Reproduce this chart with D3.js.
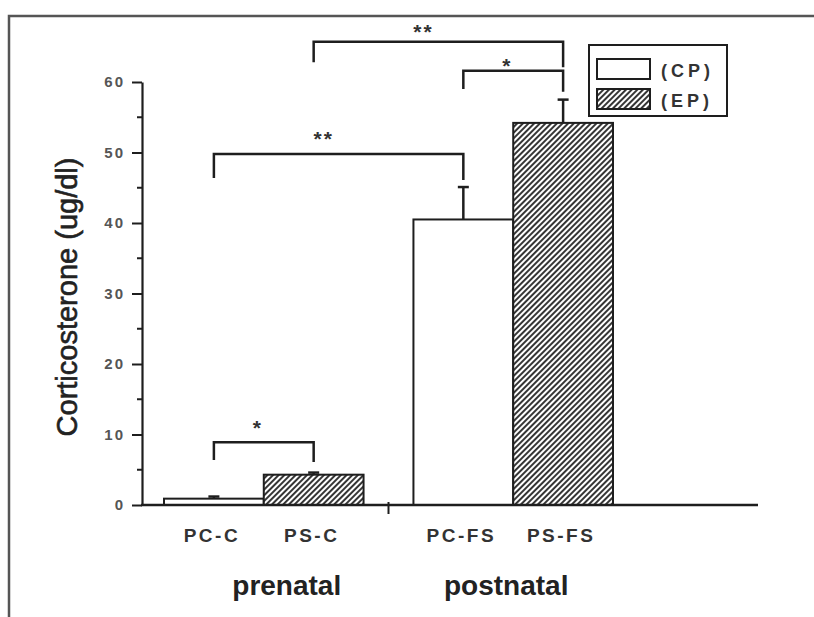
<!DOCTYPE html>
<html>
<head>
<meta charset="utf-8">
<script src="https://cdn.jsdelivr.net/npm/d3@7"></script>
<style>
  body { margin: 0; background: #fff; }
  text { font-family: "Liberation Sans", Arial, sans-serif; }
</style>
</head>
<body>
<div class="main-container"></div>
<script>
// data
const categories = ["PC-C", "PS-C", "PC-FS", "PS-FS"];
const groups = ["prenatal", "postnatal"];
const series = ["(CP)", "(EP)"];
const means = [0.9, 4.3, 40.5, 54.2];
const errors = [0.3, 0.3, 4.6, 3.3];
const yTicks = [0, 10, 20, 30, 40, 50, 60];
const yMinor = [5, 15, 25, 35, 45, 55];

// significance brackets (y values in ug/dl units)
const comparisons = [
  {a: "PC-C", b: "PS-C", top: 8.9, legA: 6.4, legB: 6.1, labelY: 11.5, label: "*"},
  {a: "PC-C", b: "PC-FS", top: 49.8, legA: 46.4, legB: 46.1, labelY: 52.5, label: "**"},
  {a: "PC-FS", b: "PS-FS", top: 61.6, legA: 59.0, legB: 58.6, labelY: 62.8, label: "*"},
  {a: "PS-C", b: "PS-FS", top: 65.7, legA: 62.8, legB: 62.1, labelY: 67.6, label: "**"}
];

const width = 814, height = 617;
const ink = "#1e1e1e";

const svg = d3.select(".main-container")
  .append("svg")
  .attr("width", width)
  .attr("height", height);

const defs = svg.append("defs");
const pat = defs.append("pattern")
  .attr("id", "hatch")
  .attr("patternUnits", "userSpaceOnUse")
  .attr("width", 4)
  .attr("height", 4)
  .attr("patternTransform", "rotate(45)");
pat.append("rect").attr("width", 4).attr("height", 4).attr("fill", "#fff");
pat.append("line")
  .attr("x1", 1).attr("y1", 0).attr("x2", 1).attr("y2", 4)
  .attr("stroke", "#111").attr("stroke-width", 1.7);

// outer frame (top and left only)
svg.append("path")
  .attr("d", "M9,617 V16 H814")
  .attr("fill", "none")
  .attr("stroke", "#555")
  .attr("stroke-width", 2.5);

const y = d3.scaleLinear().domain([0, 60]).range([505, 82]);

const xGroup = d3.scaleBand()
  .domain(groups)
  .range([164, 613])
  .paddingInner(0.2);

const xSeries = d3.scaleBand()
  .domain(series)
  .range([0, xGroup.bandwidth()]);

const barX = i => xGroup(groups[Math.floor(i / 2)]) + xSeries(series[i % 2]);
const barC = i => barX(i) + xSeries.bandwidth() / 2;
const catC = c => barC(categories.indexOf(c));

// y axis
const yAxis = svg.append("g")
  .attr("transform", "translate(142,0)")
  .call(d3.axisLeft(y).tickValues(yTicks).tickSize(10).tickSizeOuter(0).tickPadding(7));
yAxis.select(".domain").attr("stroke", ink).attr("stroke-width", 2.2);
yAxis.selectAll(".tick line").attr("stroke", ink).attr("stroke-width", 2);
yAxis.selectAll(".tick text")
  .attr("font-size", 15)
  .attr("font-weight", "bold")
  .attr("letter-spacing", 2)
  .attr("fill", "#555");

svg.append("g")
  .selectAll("line")
  .data(yMinor)
  .join("line")
  .attr("x1", 137).attr("x2", 142)
  .attr("y1", d => y(d)).attr("y2", d => y(d))
  .attr("stroke", ink).attr("stroke-width", 2);

// bars
svg.append("g")
  .selectAll("rect")
  .data(means)
  .join("rect")
  .attr("x", (d, i) => barX(i))
  .attr("y", d => y(d))
  .attr("width", xSeries.bandwidth())
  .attr("height", d => y(0) - y(d))
  .attr("fill", (d, i) => i % 2 ? "url(#hatch)" : "#fff")
  .attr("stroke", ink)
  .attr("stroke-width", 2);

// error bars
const eb = svg.append("g")
  .selectAll("g")
  .data(means)
  .join("g");
eb.append("line")
  .attr("x1", (d, i) => barC(i)).attr("x2", (d, i) => barC(i))
  .attr("y1", d => y(d)).attr("y2", (d, i) => y(d + errors[i]))
  .attr("stroke", ink).attr("stroke-width", 2.5);
eb.append("line")
  .attr("x1", (d, i) => barC(i) - 5.5).attr("x2", (d, i) => barC(i) + 5.5)
  .attr("y1", (d, i) => y(d + errors[i])).attr("y2", (d, i) => y(d + errors[i]))
  .attr("stroke", ink).attr("stroke-width", 2.5);

// x axis
svg.append("line")
  .attr("x1", 141).attr("x2", 758)
  .attr("y1", y(0)).attr("y2", y(0))
  .attr("stroke", ink).attr("stroke-width", 2.5);

const sep = (xGroup(groups[0]) + xGroup.bandwidth() + xGroup(groups[1])) / 2;
svg.append("line")
  .attr("x1", sep).attr("x2", sep)
  .attr("y1", y(0) - 3).attr("y2", y(0) + 9)
  .attr("stroke", ink).attr("stroke-width", 2);

svg.append("g")
  .selectAll("text")
  .data(categories)
  .join("text")
  .attr("x", (d, i) => barC(i) - 2)
  .attr("y", 542)
  .attr("text-anchor", "middle")
  .attr("font-size", 19)
  .attr("font-weight", "bold")
  .attr("letter-spacing", 2.5)
  .attr("fill", "#333")
  .text(d => d);

svg.append("g")
  .selectAll("text")
  .data(groups)
  .join("text")
  .attr("x", d => xGroup(d) + xGroup.bandwidth() / 2)
  .attr("dx", (d, i) => i === 0 ? 23 : -7)
  .attr("y", 595)
  .attr("text-anchor", "middle")
  .attr("font-size", 28)
  .attr("font-weight", "bold")
  .attr("fill", "#222")
  .text(d => d);

svg.append("text")
  .attr("transform", "translate(77,297) rotate(-90)")
  .attr("text-anchor", "middle")
  .attr("font-size", 29)
  .attr("fill", "#222")
  .attr("stroke", "#222")
  .attr("stroke-width", 0.6)
  .text("Corticosterone (ug/dl)");

// significance brackets
const br = svg.append("g")
  .selectAll("g")
  .data(comparisons)
  .join("g");
br.append("path")
  .attr("d", d => `M${catC(d.a)},${y(d.legA)} V${y(d.top)} H${catC(d.b)} V${y(d.legB)}`)
  .attr("fill", "none")
  .attr("stroke", ink)
  .attr("stroke-width", 2.5);
br.append("text")
  .attr("x", d => catC(d.a) + 0.44 * (catC(d.b) - catC(d.a)))
  .attr("y", d => y(d.labelY) + 11)
  .attr("text-anchor", "middle")
  .attr("font-size", 21)
  .attr("font-weight", "bold")
  .attr("letter-spacing", 2)
  .attr("fill", "#333")
  .text(d => d.label);

// legend
const lg = svg.append("g");
lg.append("rect")
  .attr("x", 589).attr("y", 45)
  .attr("width", 138).attr("height", 71)
  .attr("fill", "#fff")
  .attr("stroke", ink).attr("stroke-width", 2);
const li = lg.selectAll("g")
  .data(series)
  .join("g")
  .attr("transform", (d, i) => `translate(597,${59 + i * 30})`);
li.append("rect")
  .attr("width", 53).attr("height", 20)
  .attr("fill", (d, i) => i ? "url(#hatch)" : "#fff")
  .attr("stroke", ink).attr("stroke-width", 2);
li.append("text")
  .attr("x", 64).attr("y", 18)
  .attr("font-size", 18)
  .attr("font-weight", "bold")
  .attr("letter-spacing", 4)
  .attr("fill", "#333")
  .text(d => d);
</script>
</body>
</html>
